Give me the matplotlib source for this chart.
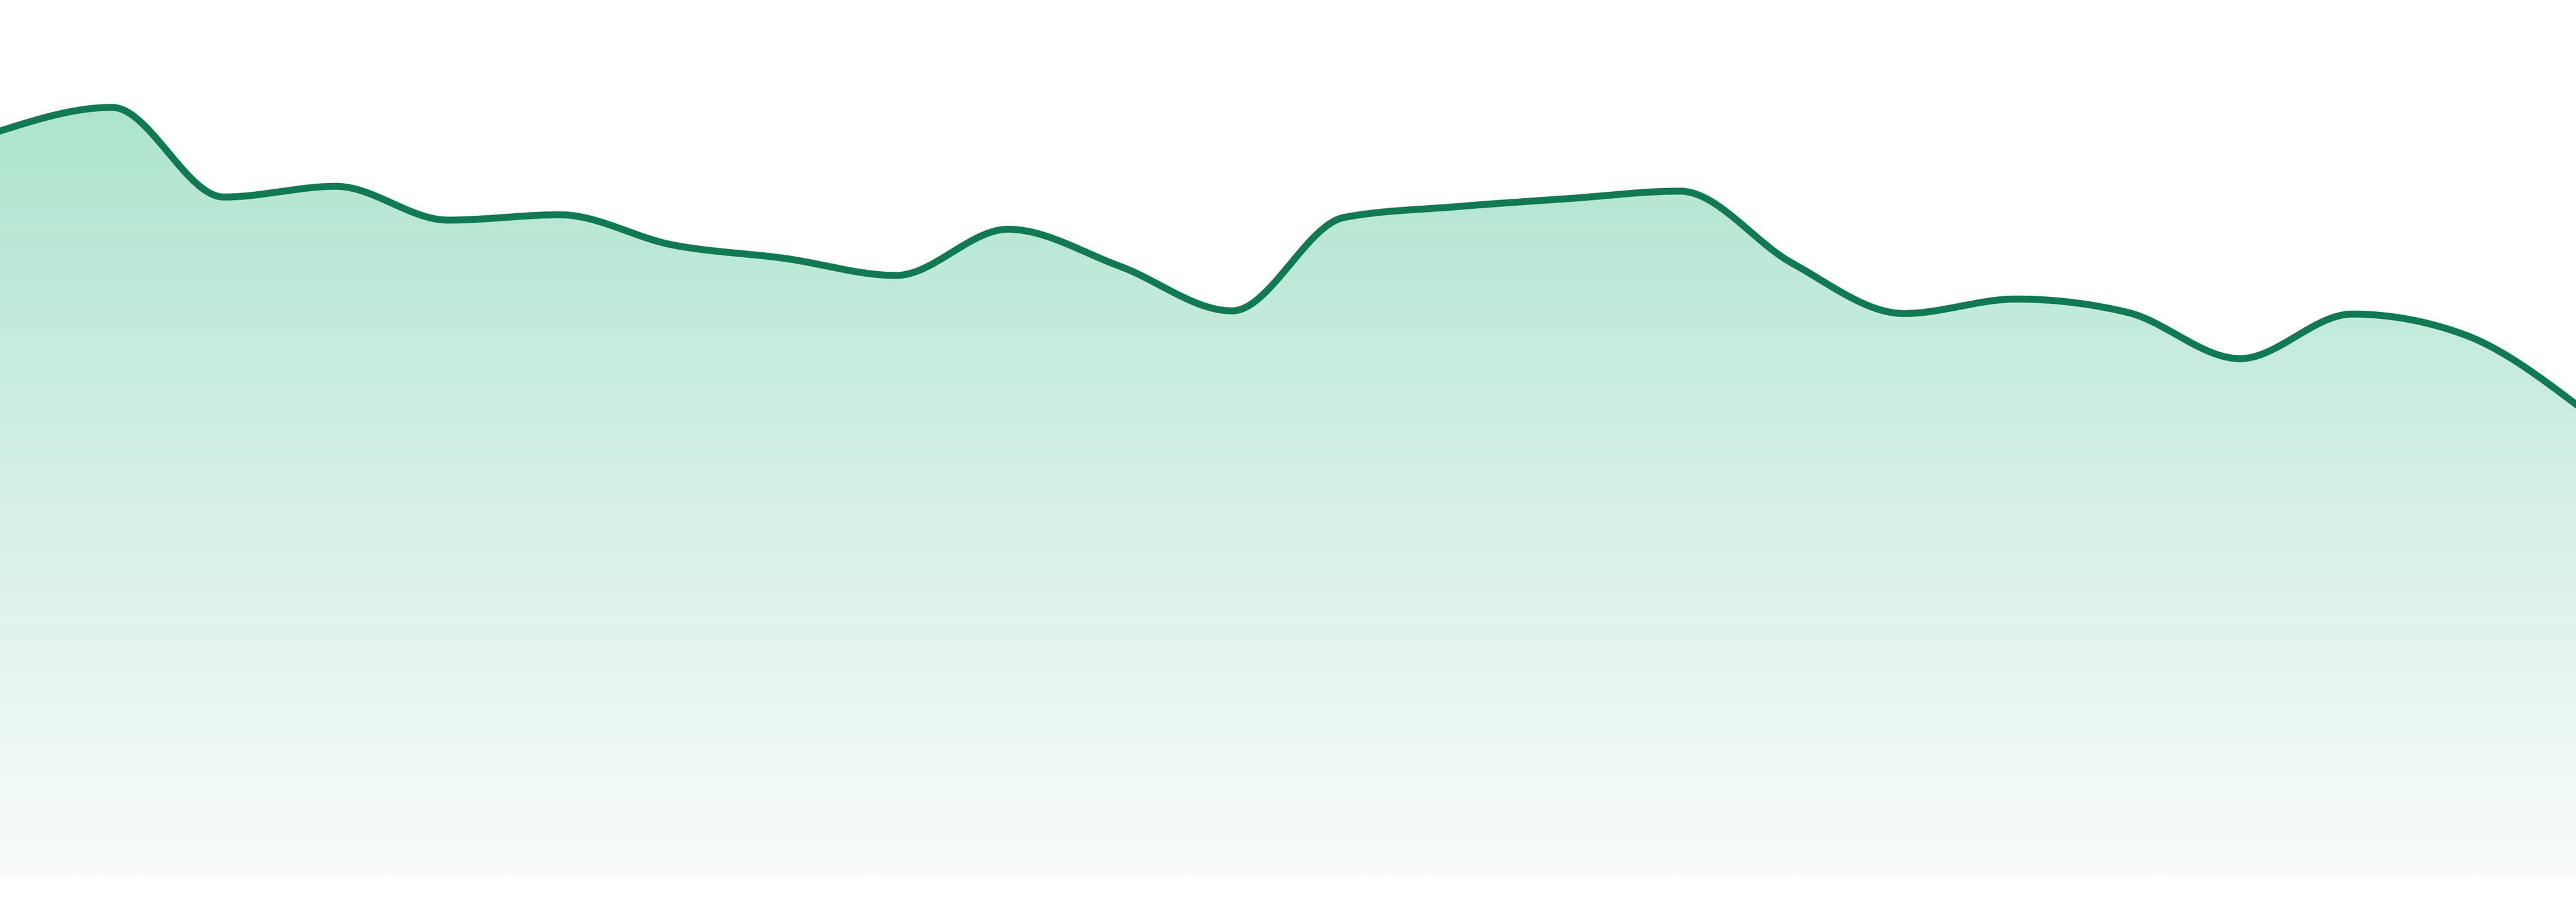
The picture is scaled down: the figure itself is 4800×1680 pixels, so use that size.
import numpy as np
import matplotlib
matplotlib.use("Agg")
import matplotlib.pyplot as plt
from matplotlib.patches import Polygon

# ---- data ----
x_index = list(range(24))
values = [139.2, 143.6, 126.9, 128.9, 122.6, 123.6, 118.0, 115.5, 112.3, 120.9,
          114.0, 105.7, 123.1, 125.1, 126.6, 128.0, 114.6, 105.2, 107.9, 105.4,
          96.8, 105.1, 101.3, 88.3]
y_max = 163.6

line_color = "#117a52"
grad_top = (163, 225, 200)
grad_bottom = (250, 252, 251)


def monotone_curve(x, y, samples=60):
    x = np.asarray(x, float)
    y = np.asarray(y, float)
    n = len(x)
    h = np.diff(x)
    s = np.diff(y) / h
    t = np.zeros(n)
    for i in range(1, n - 1):
        p = (s[i - 1] * h[i] + s[i] * h[i - 1]) / (h[i - 1] + h[i])
        t[i] = (np.sign(s[i - 1]) + np.sign(s[i])) * min(abs(s[i - 1]), abs(s[i]), 0.5 * abs(p))
    t[0] = (3 * s[0] - t[1]) / 2
    t[-1] = (3 * s[-1] - t[-2]) / 2
    xs, ys = [], []
    for i in range(n - 1):
        u = np.linspace(0, 1, samples, endpoint=(i == n - 2))
        h00 = 2 * u**3 - 3 * u**2 + 1
        h10 = u**3 - 2 * u**2 + u
        h01 = -2 * u**3 + 3 * u**2
        h11 = u**3 - u**2
        xs.append(x[i] + u * h[i])
        ys.append(h00 * y[i] + h10 * h[i] * t[i] + h01 * y[i + 1] + h11 * h[i] * t[i + 1])
    return np.concatenate(xs), np.concatenate(ys)


fig = plt.figure(figsize=(16, 5.6), dpi=300)
ax = fig.add_axes([0, 44 / 1680, 1, 1636 / 1680])
ax.set_xlim(x_index[0], x_index[-1])
ax.set_ylim(0, y_max)
ax.axis("off")

xs, ys = monotone_curve(x_index, values)

# gradient fill
n_rows = 512
frac = np.linspace(0, 1, n_rows)[:, None]
top = np.array(grad_top) / 255.0
bot = np.array(grad_bottom) / 255.0
grad = bot + (top - bot) * frac
grad = grad[:, None, :] * np.ones((1, 2, 1))
im = ax.imshow(grad, extent=[x_index[0], x_index[-1], 0, y_max], origin="lower",
               aspect="auto", interpolation="bilinear", zorder=1)
verts = np.column_stack([np.r_[xs, xs[::-1]], np.r_[ys, np.zeros_like(ys)]])
patch = Polygon(verts, closed=True, facecolor="none", edgecolor="none", transform=ax.transData)
ax.add_patch(patch)
im.set_clip_path(patch)

ax.plot(xs, ys, color=line_color, lw=3.1, solid_joinstyle="round", zorder=3)

fig.savefig("out.png", dpi=300, facecolor="white")
